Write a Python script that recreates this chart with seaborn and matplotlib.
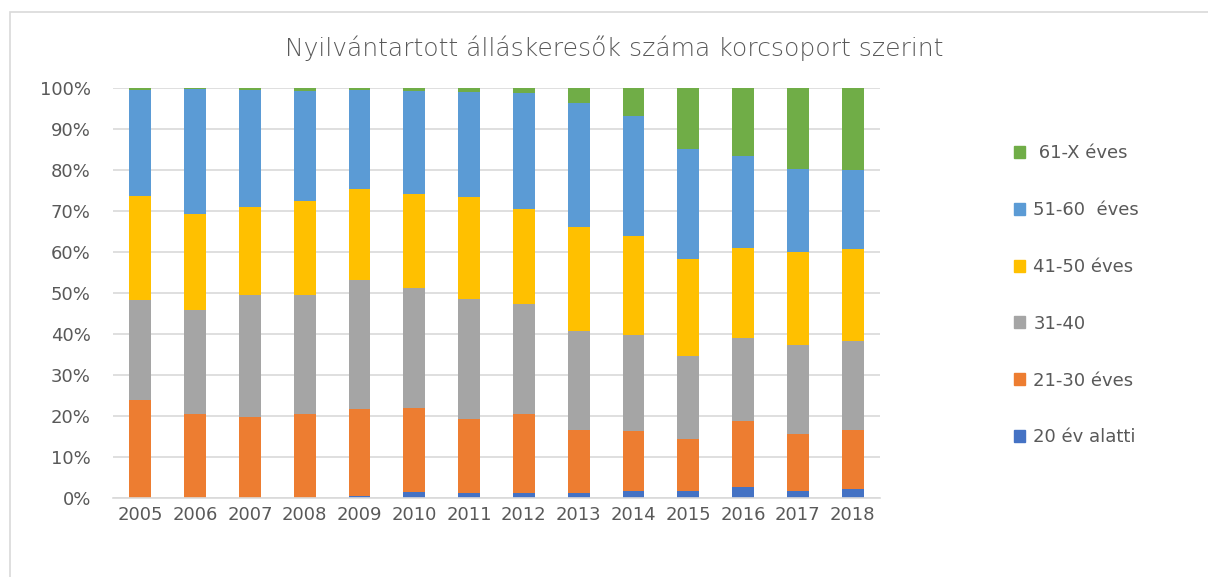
import matplotlib.pyplot as plt
import seaborn as sns
import numpy as np
from matplotlib.patches import Patch, Rectangle

years = [str(y) for y in range(2005, 2019)]
groups = ['20 év alatti', '21-30 éves', '31-40', '41-50 éves', '51-60  éves', ' 61-X éves']
colors = ['#4472c4', '#ed7d31', '#a5a5a5', '#ffc000', '#5b9bd5', '#70ad47']

# shares in percent
under20 = [0.1, 0.1, 0.1, 0.1, 0.6, 1.4, 1.1, 1.2, 1.1, 1.6, 1.6, 2.6, 1.6, 2.3]
age21_30 = [23.8, 20.5, 19.7, 20.4, 21.0, 20.6, 18.1, 19.4, 15.6, 14.7, 12.9, 16.1, 13.9, 14.3]
age31_40 = [24.4, 25.3, 29.6, 29.1, 31.5, 29.1, 29.3, 26.6, 24.0, 23.5, 20.1, 20.3, 21.9, 21.6]
age41_50 = [25.4, 23.3, 21.5, 22.8, 22.3, 23.1, 24.9, 23.4, 25.4, 24.1, 23.6, 21.9, 22.7, 22.6]
age51_60 = [25.9, 30.5, 28.7, 26.9, 24.1, 25.1, 25.7, 28.1, 30.3, 29.2, 26.9, 22.4, 20.1, 19.2]
age61_x = [0.4, 0.3, 0.4, 0.7, 0.5, 0.7, 0.9, 1.3, 3.6, 6.9, 14.9, 16.7, 19.8, 20.0]

series = [under20, age21_30, age31_40, age41_50, age51_60, age61_x]

sns.set_style('white')
plt.rcParams['font.family'] = ['DejaVu Sans']

fig = plt.figure(figsize=(12.08, 5.77), dpi=100)
ax = fig.add_axes([113 / 1208, 1 - 498 / 577, (880 - 113) / 1208, (498 - 88) / 577])

bottom = np.zeros(len(years))
for vals, col in zip(series, colors):
    sns.barplot(x=years, y=vals, bottom=bottom, color=col, width=0.4,
                errorbar=None, ax=ax, linewidth=0, saturation=1)
    bottom += np.array(vals)

ax.set_ylim(0, 100)
ax.set_yticks(range(0, 101, 10))
ax.set_yticklabels([f'{v}%' for v in range(0, 101, 10)])
ax.yaxis.grid(True, color='#d9d9d9', linewidth=1.2)
ax.set_axisbelow(True)
for side in ['top', 'right', 'left']:
    ax.spines[side].set_visible(False)
ax.spines['bottom'].set_color('#d9d9d9')
ax.spines['bottom'].set_linewidth(1.2)
ax.tick_params(axis='both', length=0, labelsize=13, colors='#595959')
ax.tick_params(axis='y', pad=16)
ax.tick_params(axis='x', pad=6)
ax.set_xlabel('')
ax.set_ylabel('')

fig.text(614 / 1208, 1 - 48 / 577, 'Nyilvántartott álláskeresők száma korcsoport szerint',
         ha='center', va='center', fontsize=18, color='#595959', fontweight='light')

handles = [Patch(color=c, label=g) for g, c in zip(groups, colors)]
fig.legend(handles=handles[::-1], loc='upper left', bbox_to_anchor=(998 / 1208, 1 - 128 / 577),
           frameon=False, fontsize=13, labelcolor='#595959', handlelength=0.6,
           handleheight=0.65, handletextpad=0.45, labelspacing=2.15)

fig.patches.append(Rectangle((10 / 1208, -0.05), 1.1, 1 - 12 / 577 + 0.05, transform=fig.transFigure,
                             fill=False, edgecolor='#d9d9d9', linewidth=1.2))

fig.savefig('out.png', dpi=100)
